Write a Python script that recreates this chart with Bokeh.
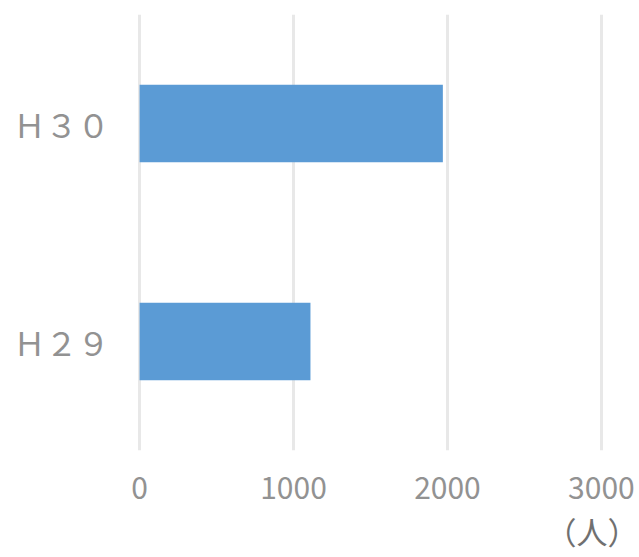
from bokeh.plotting import figure
from bokeh.models import FactorRange, Range1d, FixedTicker, Title, ColumnDataSource
from bokeh.embed import file_html
from bokeh.resources import INLINE

categories = ["Ｈ２９", "Ｈ３０"]
values = [1110, 1970]
x_ticks = [0, 1000, 2000, 3000]
unit_label = "（人）"

FONT = "Noto Sans CJK JP"
TEXT_COLOR = "#929292"

src = ColumnDataSource(dict(cat=categories, val=values))

p = figure(width=639, height=557, output_backend="svg", toolbar_location=None,
           y_range=FactorRange(factors=categories), x_range=Range1d(-20, 3020),
           min_border_left=136, min_border_right=35, min_border_top=14, min_border_bottom=0)

p.hbar(y="cat", right="val", left=0, height=0.355, source=src,
       fill_color="#5B9BD5", line_color=None)

p.outline_line_color = None
p.background_fill_color = "white"
p.ygrid.grid_line_color = None
p.xgrid.ticker = FixedTicker(ticks=x_ticks)
p.xgrid.grid_line_color = "#e8e8e8"
p.xgrid.grid_line_width = 3

p.xaxis.ticker = FixedTicker(ticks=x_ticks)
for ax in (p.xaxis, p.yaxis):
    ax.axis_line_color = None
    ax.major_tick_line_color = None
    ax.minor_tick_line_color = None
    ax.major_label_text_color = TEXT_COLOR
    ax.major_label_text_font = FONT
p.xaxis.major_label_text_font_size = "30px"
p.xaxis.major_label_standoff = 20
p.yaxis.major_label_text_font_size = "32px"
p.yaxis.major_label_standoff = 21

p.add_layout(Title(text=unit_label, align="right", offset=-34, standoff=9,
                   text_font=FONT, text_font_size="31px", text_font_style="normal",
                   text_color="#707070"), "below")

open("out.html", "w").write(file_html(p, INLINE))
